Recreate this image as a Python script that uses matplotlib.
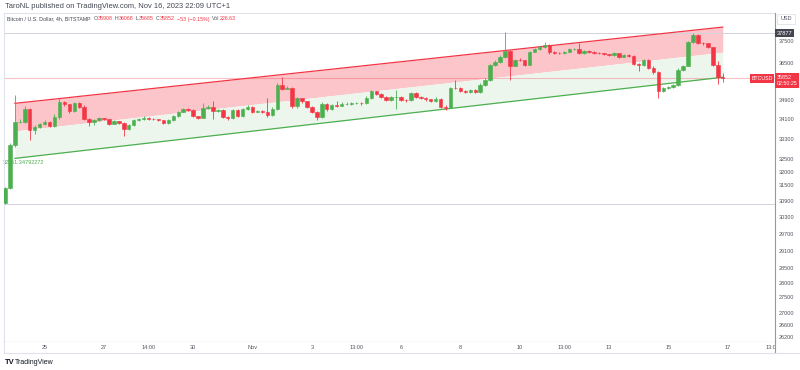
import numpy as np
import pandas as pd
import matplotlib
matplotlib.use('Agg')
from matplotlib import pyplot as plt
from matplotlib import transforms

plt.rcParams['font.family'] = ['Liberation Sans', 'DejaVu Sans']

# BTCUSD 4h candles (Bitstamp), first bar 23 Oct 2023 16:00 UTC, last bar 16 Nov 2023 20:00 UTC
first_bar = '2023-10-23 16:00'
opens = [30850, 31420, 33080, 34015, 34030, 34537, 33670, 33830, 33922, 34015,
         33855, 34220, 34840, 34744, 34468, 34814, 34648, 34125, 34030, 34097,
         34166, 34125, 33950, 34043, 33988, 33719, 33895, 34084, 34125, 34180,
         34152, 34125, 34084, 33988, 34097, 34260, 34440, 34565, 34510, 34260,
         34195, 34605, 34648, 34468, 34510, 34220, 34166, 34510, 34260, 34565,
         34648, 34440, 34468, 34427, 34290, 34565, 35586, 35416, 35440, 34660,
         34995, 34870, 34648, 34427, 34220, 34772, 34537, 34703, 34690, 34772,
         34780, 34785, 34795, 34790, 35023, 35302, 35193, 35065, 34925, 35050,
         35060, 34925, 34912, 35235, 35065, 35023, 34953, 34883, 34983, 34648,
         34605, 35445, 35440, 35302, 35260, 35345, 35260, 35586, 35800, 36449,
         36590, 36815, 37080, 36400, 36668, 36640, 36449, 37030, 37140, 37230,
         37333, 37000, 36985, 36975, 37030, 37140, 37150, 36960, 37070, 37000,
         36990, 36960, 36930, 36880, 36960, 36810, 36888, 36845, 36492, 36420,
         36668, 36302, 36130, 35302, 35450, 35490, 35560, 36231, 36406, 37480,
         37800, 37435, 37410, 37230, 36420, 35908]
highs = [31450, 33150, 35160, 34150, 34660, 34600, 33900, 33980, 34080, 34060,
         34330, 34995, 34880, 34760, 34860, 34830, 34700, 34160, 34150, 34220,
         34200, 34150, 34100, 34070, 34030, 33950, 34130, 34180, 34250, 34220,
         34190, 34150, 34110, 34150, 34310, 34480, 34610, 34600, 34540, 34280,
         34810, 34700, 34870, 34560, 34540, 34270, 34560, 34540, 34610, 34700,
         34680, 34520, 34500, 35000, 34620, 35640, 35930, 35520, 35480, 35060,
         35020, 34900, 34680, 34470, 34830, 34800, 34760, 34880, 34830, 34840,
         34830, 34850, 34840, 35080, 35360, 35330, 35230, 35100, 35100, 35374,
         35110, 34980, 35290, 35260, 35100, 35060, 34990, 35040, 35010, 34700,
         35500, 35800, 35480, 35340, 35400, 35380, 35640, 35870, 36500, 36680,
         36870, 37940, 37120, 36720, 36730, 36680, 37080, 37200, 37280, 37480,
         37370, 37050, 37020, 37080, 37190, 37200, 37410, 37120, 37100, 37040,
         37010, 36990, 36950, 37010, 36990, 36930, 36920, 36880, 36530, 36710,
         36700, 36400, 36160, 35500, 35540, 35610, 36290, 36460, 37520, 37877,
         37850, 37480, 37430, 37260, 36600, 36068]
lows = [30800, 31380, 33000, 33960, 33990, 33290, 33518, 33780, 33880, 33800,
        33800, 34150, 34690, 34400, 34420, 34600, 34080, 33860, 33880, 34060,
        34080, 33900, 33920, 33940, 33450, 33680, 33850, 34050, 34100, 34110,
        34090, 34040, 33950, 33950, 34060, 34230, 34410, 34460, 34220, 34120,
        34160, 34560, 34125, 34430, 34180, 34110, 34130, 34220, 34230, 34520,
        34390, 34410, 34380, 34230, 34250, 34520, 35350, 35380, 34600, 34600,
        34820, 34600, 34380, 34100, 34200, 34490, 34500, 34640, 34660, 34740,
        34740, 34750, 34740, 34760, 34990, 35140, 35020, 34880, 34900, 34537,
        34880, 34860, 34880, 35020, 34980, 34900, 34840, 34850, 34600, 34520,
        34580, 35380, 35250, 35210, 35230, 35210, 35230, 35540, 35750, 36380,
        36540, 36770, 35800, 36380, 36600, 36400, 36430, 37000, 37110, 37190,
        36950, 36940, 36920, 36950, 37000, 37100, 36920, 36920, 36960, 36950,
        36920, 36890, 36840, 36850, 36770, 36790, 36800, 36440, 36160, 36380,
        36250, 36060, 35023, 35250, 35400, 35450, 35520, 36180, 36380, 37420,
        37380, 37350, 37180, 36380, 35600, 35685]
closes = [31420, 33080, 34015, 34030, 34537, 33670, 33830, 33922, 34015, 33855,
          34220, 34840, 34744, 34468, 34814, 34648, 34125, 34030, 34097, 34166,
          34125, 33950, 34043, 33988, 33719, 33895, 34084, 34125, 34180, 34152,
          34125, 34084, 33988, 34097, 34260, 34440, 34565, 34510, 34260, 34195,
          34605, 34648, 34468, 34510, 34220, 34166, 34510, 34260, 34565, 34648,
          34440, 34468, 34427, 34290, 34565, 35586, 35416, 35440, 34660, 34995,
          34870, 34648, 34427, 34220, 34772, 34537, 34703, 34690, 34772, 34780,
          34785, 34795, 34790, 35023, 35302, 35193, 35065, 34925, 35050, 35060,
          34925, 34912, 35235, 35065, 35023, 34953, 34883, 34983, 34648, 34605,
          35445, 35440, 35302, 35260, 35345, 35260, 35586, 35800, 36449, 36590,
          36815, 37080, 36400, 36668, 36640, 36449, 37030, 37140, 37230, 37333,
          37000, 36985, 36975, 37030, 37140, 37150, 36960, 37070, 37000, 36990,
          36960, 36930, 36880, 36960, 36810, 36888, 36845, 36492, 36420, 36668,
          36302, 36130, 35302, 35450, 35490, 35560, 36231, 36406, 37480, 37800,
          37435, 37410, 37230, 36420, 35908, 35852]

# regression channel, anchored on bar 2 and the last bar
channel_bars = [2, 145]
channel_upper = [34790, 38150]
channel_lower = [32551.35, 35905]

# time scale (bar time in UTC) and its labels
time_ticks = ['2023-10-25 00:00', '2023-10-27 00:00', '2023-10-28 12:00', '2023-10-30 00:00',
              '2023-11-01 00:00', '2023-11-03 00:00', '2023-11-04 12:00', '2023-11-06 00:00',
              '2023-11-08 00:00', '2023-11-10 00:00', '2023-11-11 12:00', '2023-11-13 00:00',
              '2023-11-15 00:00', '2023-11-17 00:00', '2023-11-18 12:00']
time_labels = ['25', '27', '14:00', '30', 'Nov', '3', '13:00', '6', '8', '10', '13:00',
               '13', '15', '17', '13:00']

price_ticks = [37500, 36500, 34900, 34100, 33300, 32500, 32000, 31500, 30900, 30300,
               29700, 29100, 28500, 28000, 27500, 27000, 26600, 26200]
high_line = 37877
low_line = 30790
last_price = 35852

GREEN = '#4caf50'
RED = '#f23645'
TXT = '#50535e'
W, H = 800, 370


def fx(px):
    return px / W


def fy(py):
    return 1 - py / H


fig = plt.figure(figsize=(8, 3.7), dpi=100)
fig.patch.set_facecolor('white')

x_lo, x_hi = -0.202, 155.56
ax = fig.add_axes([fx(4), fy(342), fx(775) - fx(4), fy(13) - fy(342)])
ax.set_yscale('log')
ax.set_ylim(26073, 38804)
ax.set_xlim(x_lo, x_hi)
ax.set_xticks([])
ax.yaxis.set_major_locator(matplotlib.ticker.NullLocator())
ax.yaxis.set_minor_locator(matplotlib.ticker.NullLocator())
for s in ['left', 'top']:
    ax.spines[s].set_color('#e0e3eb')
    ax.spines[s].set_linewidth(0.8)
ax.spines['right'].set_visible(False)
ax.spines['bottom'].set_color('#9598a1')
ax.spines['bottom'].set_linewidth(0.8)

# channel
cx = np.array(channel_bars)
cu = np.array(channel_upper)
cl = np.array(channel_lower)
cm = np.sqrt(cu * cl)
ax.fill_between(cx, cm, cu, color='#fbc5ca', lw=0, zorder=1)
ax.fill_between(cx, cl, cm, color='#edf6ed', lw=0, zorder=1)
ax.plot(cx, cu, color=RED, lw=0.9, zorder=2)
ax.plot(cx, cl, color=GREEN, lw=0.9, zorder=2)
lab_tr = transforms.offset_copy(ax.get_yaxis_transform(), fig=fig, y=-2, units='dots')
ax.text(-0.001, channel_lower[0], '32551.34792272', transform=lab_tr, ha='left', va='top',
        fontsize=4, color=GREEN, zorder=2, clip_on=False)

# horizontal lines
ax.axhline(high_line, color='#d1d4dc', lw=0.7, zorder=1.5)
ax.axhline(low_line, color='#d1d4dc', lw=0.7, zorder=1.5)
ax.axhline(last_price, color=RED, alpha=0.3, lw=0.8, zorder=1.5)

# candles
o = np.array(opens)
c = np.array(closes)
idx = np.arange(len(c))
cols = np.where(c >= o, GREEN, RED)
ax.vlines(idx, lows, highs, colors=cols, lw=0.6, zorder=3)
b_lo = np.minimum(o, c)
b_hi = np.maximum(o, c)
ax.bar(idx, b_hi - b_lo, bottom=b_lo, width=0.7, color=cols, edgecolor=cols, lw=0.4, zorder=4)

# symbol label at the price scale
ax.text(0.997, last_price, 'BTCUSD', transform=ax.get_yaxis_transform(), ha='right', va='center',
        fontsize=3.8, color='white', zorder=6,
        bbox=dict(boxstyle='square,pad=0.3', fc=RED, ec='none'))

# price scale
axp = fig.add_axes([fx(775), fy(342), fx(800) - fx(775), fy(13) - fy(342)], sharey=ax)
axp.set_xticks([])
axp.yaxis.set_visible(False)
for s in ['top', 'right', 'bottom']:
    axp.spines[s].set_visible(False)
axp.spines['left'].set_color('#9598a1')
axp.spines['left'].set_linewidth(0.8)
ptr = axp.get_yaxis_transform()
for p in price_ticks:
    axp.text(0.13, p, f'{p}', transform=ptr, ha='left', va='center', fontsize=4, color=TXT)
axp.text(0.06, high_line, f'{high_line}', transform=ptr, ha='left', va='center', fontsize=4,
         color='white', bbox=dict(boxstyle='square,pad=0.3', fc='#434651', ec='none'))
badge_tr = transforms.offset_copy(ptr, fig=fig, y=3.5, units='dots')
axp.text(0.06, last_price, f'{last_price}\n02:50:25', transform=badge_tr, ha='left', va='top',
         fontsize=3.8, color='white', linespacing=1.3,
         bbox=dict(boxstyle='square,pad=0.3', fc=RED, ec='none'))
fig.text(fx(786), fy(19), 'USD', ha='center', va='center', fontsize=4, color=TXT,
         bbox=dict(boxstyle='square,pad=0.5', fc='white', ec='#e0e3eb', lw=0.6))

# time scale
axt = fig.add_axes([fx(4), fy(353), fx(775) - fx(4), fy(342) - fy(353)])
axt.set_xlim(x_lo, x_hi)
axt.set_ylim(0, 1)
axt.set_xticks([])
axt.set_yticks([])
axt.spines['top'].set_visible(False)
axt.spines['right'].set_visible(False)
for s in ['left', 'bottom']:
    axt.spines[s].set_color('#e0e3eb')
    axt.spines[s].set_linewidth(0.8)
t0 = pd.Timestamp(first_bar)
for t, lab in zip(time_ticks, time_labels):
    pos = (pd.Timestamp(t) - t0) / pd.Timedelta('4h')
    axt.text(pos, 0.5, lab, ha='center', va='center', fontsize=4, color=TXT, clip_on=True)
fig.add_artist(plt.Line2D([fx(775), fx(775)], [fy(353), fy(342)], color='#9598a1', lw=0.8))
fig.add_artist(plt.Line2D([fx(775), fx(800)], [fy(353), fy(353)], color='#e0e3eb', lw=0.8))

# header and legend
fig.text(fx(5), fy(7), 'TaroNL published on TradingView.com, Nov 16, 2023 22:09 UTC+1',
         ha='left', va='center', fontsize=5.4, color='#434651')
legend_parts = [('Bitcoin / U.S. Dollar, 4h, BITSTAMP', '#434651', 3),
                ('O', TXT, 0.3), ('35908', RED, 2), ('H', TXT, 0.3), ('36068', RED, 2),
                ('L', TXT, 0.3), ('35685', RED, 2), ('C', TXT, 0.3), ('35852', RED, 2),
                ('\u221253 (\u22120.15%)', RED, 2.5), ('Vol', TXT, 0.3), ('226.63', RED, 0)]
fig.canvas.draw()
rend = fig.canvas.get_renderer()
xpos = 7.0
for s, col, gap in legend_parts:
    t = fig.text(fx(xpos), fy(19), s, ha='left', va='center', fontsize=3.75, color=col)
    bb = t.get_window_extent(rend)
    xpos = bb.x1 + gap

# footer logo
fig.text(fx(5), fy(362), 'TV', ha='left', va='center', fontsize=5.5, fontweight='bold', color='#131722')
fig.text(fx(15), fy(362), 'TradingView', ha='left', va='center', fontsize=5, color='#131722')

fig.savefig('out.png', dpi=100, facecolor='white')
